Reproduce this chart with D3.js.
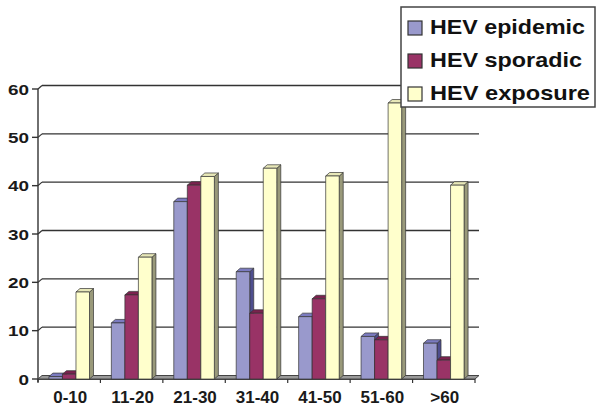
<!DOCTYPE html>
<html><head><meta charset="utf-8">
<script src="https://cdn.jsdelivr.net/npm/d3@7/dist/d3.min.js"></script>
<style>body{margin:0;background:#fff}svg{display:block}</style>
</head><body>
<svg id="c" width="598" height="406"></svg>
<script>
const categories = ["0-10","11-20","21-30","31-40","41-50","51-60",">60"];
const seriesNames = ["HEV epidemic","HEV sporadic","HEV exposure"];
const epidemic = [0.5, 11.6, 36.7, 22.2, 12.9, 8.8, 7.4];
const sporadic = [1.0, 17.4, 40.1, 13.6, 16.6, 8.1, 3.9];
const exposure = [18.0, 25.2, 41.9, 43.6, 42.0, 57.1, 40.1];
const yTicks = [0,10,20,30,40,50,60];

const seriesValues = [epidemic, sporadic, exposure];
const faces = [
  {front:"#9999CC", side:"#4E4E8E", top:"#7B7BC0"},
  {front:"#993366", side:"#5E1A3A", top:"#7A224E"},
  {front:"#FFFFCC", side:"#99997A", top:"#E8E8B8"}
];
const dx = 4, dy = -3.5;
const svg = d3.select("#c");
const x0 = d3.scaleBand().domain(categories).range([38, 475]);
const y = d3.scaleLinear().domain([0,60]).range([379, 89]);
const bw0 = x0.bandwidth();
const x1 = d3.scaleBand().domain(d3.range(3)).range([bw0*0.175, bw0*0.825]);

// gridlines (back wall) and diagonals
const g = svg.append("g");
yTicks.forEach(t => {
  if (t > 0) {
    g.append("line").attr("x1", 38+dx).attr("x2", 475+dx).attr("y1", y(t)+dy).attr("y2", y(t)+dy)
      .attr("stroke","#333").attr("stroke-width",1.4);
    g.append("line").attr("x1", 38).attr("x2", 38+dx).attr("y1", y(t)).attr("y2", y(t)+dy)
      .attr("stroke","#333").attr("stroke-width",1.2);
  }
  g.append("line").attr("x1", 32).attr("x2", 38).attr("y1", y(t)).attr("y2", y(t))
    .attr("stroke","#333").attr("stroke-width",1.4);
  g.append("text").attr("x", 29).attr("y", y(t)+5.5).attr("text-anchor","end")
    .attr("font-family","Liberation Sans, Arial, sans-serif").attr("font-weight","bold")
    .attr("font-size",15).attr("fill","#1a1a1a")
    .attr("textLength", String(t).length*10.5).attr("lengthAdjust","spacingAndGlyphs")
    .text(t);
});
// y axis line
g.append("line").attr("x1",38).attr("x2",38).attr("y1",y(60)).attr("y2",y(0)+3)
  .attr("stroke","#333").attr("stroke-width",1.4);

// floor
const floorPts = [[38,y(0)],[475,y(0)],[475+dx,y(0)+dy],[38+dx,y(0)+dy]];
svg.append("polygon").attr("points", floorPts.map(p=>p.join(",")).join(" "))
  .attr("fill","#9a9a9a").attr("stroke","#444").attr("stroke-width",1);
svg.append("line").attr("x1",38).attr("x2",475).attr("y1",y(0)+0.5).attr("y2",y(0)+0.5)
  .attr("stroke","#444").attr("stroke-width",1.2);

// x ticks
categories.concat(["end"]).forEach((c,i) => {
  const xx = 38 + i*bw0;
  svg.append("line").attr("x1",xx).attr("x2",xx).attr("y1",y(0)).attr("y2",y(0)+4)
    .attr("stroke","#333").attr("stroke-width",1.2);
});

// bars
const bars = svg.append("g");
categories.forEach((c,ci) => {
  seriesValues.forEach((vals,si) => {
    const v = vals[ci];
    const xl = x0(c) + x1(si), bw = x1.bandwidth();
    const yt = y(v), yb = y(0);
    const f = faces[si];
    const st = {stroke:"#333","stroke-width":0.7,"stroke-linejoin":"round"};
    const side = [[xl+bw,yt],[xl+bw+dx,yt+dy],[xl+bw+dx,yb+dy],[xl+bw,yb]];
    const top = [[xl,yt],[xl+dx,yt+dy],[xl+bw+dx,yt+dy],[xl+bw,yt]];
    const pg = (pts, fill) => {
      const p = bars.append("polygon").attr("points", pts.map(q=>q.join(",")).join(" ")).attr("fill", fill);
      Object.entries(st).forEach(([k,val])=>p.attr(k,val));
    };
    pg(side, f.side);
    pg(top, f.top);
    const r = bars.append("rect").attr("x",xl).attr("y",yt).attr("width",bw).attr("height",yb-yt).attr("fill",f.front);
    Object.entries(st).forEach(([k,val])=>r.attr(k,val));
  });
});

// x labels
categories.forEach(c => {
  svg.append("text").attr("x", x0(c)+bw0/2+1).attr("y", 403).attr("text-anchor","middle")
    .attr("font-family","Liberation Sans, Arial, sans-serif").attr("font-weight","bold")
    .attr("font-size",17).attr("fill","#1a1a1a").text(c);
});

// legend
const lg = svg.append("g");
lg.append("rect").attr("x",401).attr("y",7).attr("width",194).attr("height",100)
  .attr("fill","#fff").attr("stroke","#444").attr("stroke-width",1.5);
const legLens = [155,152,160];
seriesNames.forEach((n,i) => {
  const yy = 21 + i*33;
  lg.append("rect").attr("x",408).attr("y",yy).attr("width",14).attr("height",14)
    .attr("fill",faces[i].front).attr("stroke","#333").attr("stroke-width",1.2);
  lg.append("text").attr("x",430).attr("y",yy+13).attr("font-family","Liberation Sans, Arial, sans-serif")
    .attr("font-weight","bold").attr("font-size",21).attr("fill","#111")
    .attr("textLength",legLens[i]).attr("lengthAdjust","spacingAndGlyphs").text(n);
});
</script>
</body></html>
